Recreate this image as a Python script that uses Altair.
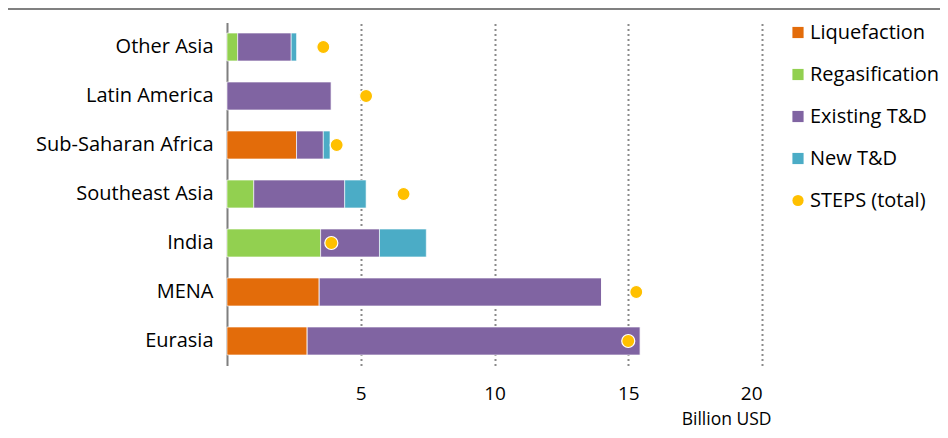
import altair as alt
import pandas as pd

regions = ["Other Asia", "Latin America", "Sub-Saharan Africa", "Southeast Asia", "India", "MENA", "Eurasia"]
components = ["Liquefaction", "Regasification", "Existing T&D", "New T&D"]
liquefaction = [0.0, 0.0, 2.6, 0.0, 0.0, 3.45, 3.0]
regasification = [0.4, 0.0, 0.0, 1.0, 3.5, 0.0, 0.0]
existing_td = [2.0, 3.9, 1.0, 3.4, 2.2, 10.55, 12.45]
new_td = [0.2, 0.0, 0.25, 0.8, 1.75, 0.0, 0.0]
steps_total = [3.6, 5.2, 4.1, 6.6, 3.9, 15.3, 15.0]

series_names = components + ["STEPS (total)"]
colors = ["#E36C0A", "#92D050", "#8064A2", "#4BACC6", "#FFC000"]
shapes = ["square", "square", "square", "square", "circle"]

rows = []
for i, r in enumerate(regions):
    for k, (name, vals) in enumerate(zip(components, [liquefaction, regasification, existing_td, new_td])):
        rows.append({"region": r, "series": name, "value": vals[i], "ord": k})
bars_df = pd.DataFrame(rows)
steps_df = pd.DataFrame({"region": regions, "series": "STEPS (total)", "value": steps_total})

FONT = "Open Sans"
FS = 20

color_scale = alt.Scale(domain=series_names, range=colors)
y_enc = alt.Y("region:N", sort=regions, title=None,
              scale=alt.Scale(paddingInner=0.43, paddingOuter=0.215),
              axis=alt.Axis(labelFontSize=FS, labelColor="#000000", labelFont=FONT,
                            ticks=False, labelPadding=14, domainColor="#7f7f7f",
                            domainWidth=2))
x_scale = alt.Scale(domain=[0, 20], nice=False)

bars = alt.Chart(bars_df).mark_bar(stroke="white", strokeWidth=0.6).encode(
    x=alt.X("value:Q", stack="zero", scale=x_scale,
            axis=alt.Axis(values=[5, 10, 15, 20], domain=False, ticks=False,
                          labelFontSize=19, labelColor="#000000", labelFont=FONT,
                          labelPadding=19, grid=True, gridDash=[2, 3], gridWidth=2,
                          gridColor="#8a8a8a", title="Billion USD",
                          titleFont=FONT, titleFontSize=17.5, titleFontWeight="normal",
                          titleColor="#000000", titleAlign="right", titleAnchor="end",
                          titleX=544, titleY=54, titleBaseline="middle")),
    y=y_enc,
    color=alt.Color("series:N", scale=color_scale,
                    legend=alt.Legend(title=None, orient="none", legendX=561, legendY=0,
                                      labelFontSize=FS, labelFont=FONT, labelColor="#000000",
                                      symbolSize=125, symbolStrokeWidth=0,
                                      rowPadding=22, labelOffset=2)),
    order=alt.Order("ord:Q"),
)

points = alt.Chart(steps_df).mark_point(filled=True, size=170, stroke="white",
                                        strokeWidth=1.2, opacity=1).encode(
    x=alt.X("value:Q", scale=x_scale),
    y=alt.Y("region:N", sort=regions),
    color=alt.Color("series:N", scale=color_scale),
    shape=alt.Shape("series:N", scale=alt.Scale(domain=series_names, range=shapes)),
)

top_line = alt.Chart(pd.DataFrame({"a": [0]})).mark_rule(color="#808080", strokeWidth=2).encode(
    x=alt.value(-219), x2=alt.value(713), y=alt.value(-13.5)
)

chart = alt.layer(bars, points, top_line).properties(
    width=535, height=343,
    autosize=alt.AutoSizeParams(type="none"),
    padding={"left": 219, "top": 14.5, "right": 178, "bottom": 64.5},
).configure_view(stroke=None).configure_legend(symbolStrokeColor="transparent")

chart.save("out.html", embed_options={"renderer": "svg", "actions": False})
